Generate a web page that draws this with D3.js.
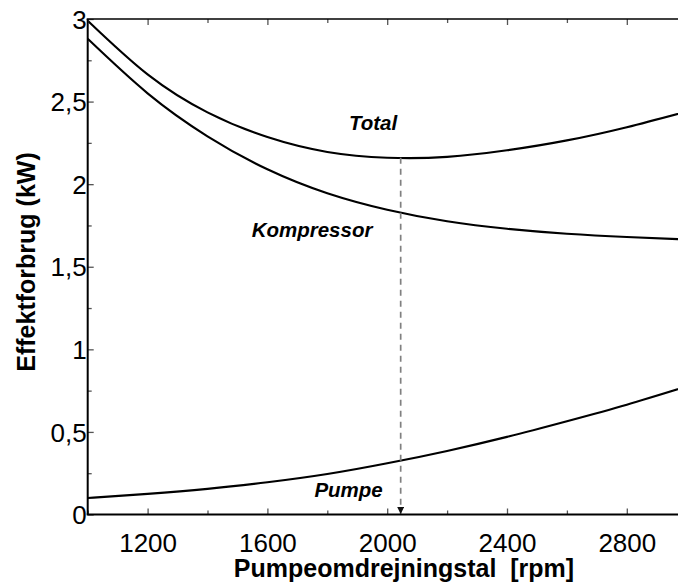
<!DOCTYPE html>
<html>
<head>
<meta charset="utf-8">
<script src="https://cdn.jsdelivr.net/npm/d3@7"></script>
<style>
  html, body { margin: 0; padding: 0; background: #fff; }
  svg { display: block; font-family: "Liberation Sans", Arial, sans-serif; }
</style>
</head>
<body>
<svg id="chart" width="678" height="587"></svg>
<script>
// ---- data ----
const rpm        = [1000, 1200, 1400, 1600, 1800, 2000, 2200, 2400, 2600, 2800, 3000];
const kompressor = [2.88, 2.55, 2.29, 2.09, 1.945, 1.845, 1.775, 1.73, 1.70, 1.68, 1.665];
const pumpe      = [0.10, 0.125, 0.155, 0.195, 0.245, 0.31, 0.385, 0.47, 0.565, 0.665, 0.775];
const total      = [2.99, 2.665, 2.435, 2.285, 2.195, 2.16, 2.165, 2.205, 2.265, 2.345, 2.44];
const xTickValues = [1200, 1600, 2000, 2400, 2800];
const xMinorTicks = [1000, 1400, 1800, 2200, 2600, 3000];
const yTickValues = [0, 0.5, 1, 1.5, 2, 2.5, 3];
const yTickLabels = ["0", "0,5", "1", "1,5", "2", "2,5", "3"];
const yMinorTicks = [0.25, 0.75, 1.25, 1.75, 2.25, 2.75];
const optimumRpm = 2045;
const optimumKW  = 2.16;
const seriesLabels = [
  {text: "Total",      rpm: 1953, kw: 2.33},
  {text: "Kompressor", rpm: 1749, kw: 1.68},
  {text: "Pumpe",      rpm: 1871, kw: 0.104}
];

// ---- layout ----
const svg = d3.select("#chart");
const pLeft = 87.7, pTop = 19, pBottom = 514.5, pRight = 686.7;
const x = d3.scaleLinear().domain([1000, 3000]).range([pLeft, pRight]);
const y = d3.scaleLinear().domain([0, 3]).range([pBottom, pTop]);

const defs = svg.append("defs");
defs.append("clipPath").attr("id", "plotclip")
  .append("rect").attr("x", pLeft).attr("y", pTop - 2).attr("width", pRight - pLeft).attr("height", pBottom - pTop + 4);
defs.append("marker").attr("id", "arrow")
  .attr("viewBox", "0 0 10 10").attr("refX", 10).attr("refY", 5)
  .attr("markerWidth", 9).attr("markerHeight", 7).attr("markerUnits", "userSpaceOnUse")
  .attr("orient", "auto")
  .append("path").attr("d", "M0,0 L10,5 L0,10 Z").attr("fill", "#111");

const line = d3.line().x(d => x(d[0])).y(d => y(d[1])).curve(d3.curveNatural);
const plot = svg.append("g").attr("clip-path", "url(#plotclip)");

[total, kompressor, pumpe].forEach(vals => {
  plot.append("path")
    .datum(rpm.map((r, i) => [r, vals[i]]))
    .attr("d", line)
    .attr("fill", "none")
    .attr("stroke", "#000")
    .attr("stroke-width", 2.1);
});

// dashed optimum marker
svg.append("line")
  .attr("x1", x(optimumRpm)).attr("x2", x(optimumRpm))
  .attr("y1", y(optimumKW)).attr("y2", y(0) - 0.5)
  .attr("stroke", "#808080").attr("stroke-width", 1.7)
  .attr("stroke-dasharray", "6,5")
  .attr("marker-end", "url(#arrow)");

// ---- axes ----
const axisColor = "#000";
function styleTicks(g) {
  g.select(".domain").remove();
  g.selectAll(".tick line").attr("stroke", "#555").attr("stroke-width", 1.3);
}
// bottom axis
const gx = svg.append("g").attr("transform", `translate(0,${pBottom})`)
  .call(d3.axisBottom(x).tickValues(xTickValues).tickSizeInner(-6).tickSizeOuter(0).tickPadding(19).tickFormat(d3.format("d")));
styleTicks(gx);
gx.selectAll(".tick text").attr("font-size", 26).attr("fill", "#000")
  .attr("font-family", "'Liberation Sans', Arial, sans-serif");
const gxm = svg.append("g").attr("transform", `translate(0,${pBottom})`)
  .call(d3.axisBottom(x).tickValues(xMinorTicks).tickSizeInner(-4).tickSizeOuter(0).tickFormat(""));
styleTicks(gxm);

// top axis ticks
const gt = svg.append("g").attr("transform", `translate(0,${pTop})`)
  .call(d3.axisTop(x).tickValues(xTickValues).tickSizeInner(-6).tickSizeOuter(0).tickFormat(""));
styleTicks(gt);
const gtm = svg.append("g").attr("transform", `translate(0,${pTop})`)
  .call(d3.axisTop(x).tickValues(xMinorTicks).tickSizeInner(-4).tickSizeOuter(0).tickFormat(""));
styleTicks(gtm);

// left axis
const gy = svg.append("g").attr("transform", `translate(${pLeft},0)`)
  .call(d3.axisLeft(y).tickValues(yTickValues).tickSizeInner(-6).tickSizeOuter(0).tickPadding(3)
    .tickFormat((d, i) => yTickLabels[i]));
styleTicks(gy);
gy.selectAll(".tick text").attr("font-size", 26).attr("fill", "#000")
  .attr("x", -1).attr("dy", "0.35em")
  .attr("font-family", "'Liberation Sans', Arial, sans-serif");
const gym = svg.append("g").attr("transform", `translate(${pLeft},0)`)
  .call(d3.axisLeft(y).tickValues(yMinorTicks).tickSizeInner(-4).tickSizeOuter(0).tickFormat(""));
styleTicks(gym);

// frame lines (left, bottom, top)
svg.append("line").attr("x1", pLeft).attr("x2", pLeft).attr("y1", pTop).attr("y2", pBottom)
  .attr("stroke", axisColor).attr("stroke-width", 2);
svg.append("line").attr("x1", pLeft - 1).attr("x2", 678).attr("y1", pBottom).attr("y2", pBottom)
  .attr("stroke", axisColor).attr("stroke-width", 2);
svg.append("line").attr("x1", pLeft - 1).attr("x2", 678).attr("y1", pTop).attr("y2", pTop)
  .attr("stroke", axisColor).attr("stroke-width", 1.6);

// series labels
svg.append("g").selectAll("text").data(seriesLabels).join("text")
  .attr("x", d => x(d.rpm)).attr("y", d => y(d.kw))
  .attr("text-anchor", "middle")
  .attr("font-size", 20.5).attr("font-weight", "bold").attr("font-style", "italic")
  .text(d => d.text);

// axis titles
svg.append("text")
  .attr("x", 404).attr("y", 577)
  .attr("text-anchor", "middle")
  .attr("font-size", 25).attr("font-weight", "bold")
  .attr("xml:space", "preserve")
  .style("white-space", "pre")
  .text("Pumpeomdrejningstal  [rpm]");
svg.append("text")
  .attr("transform", "translate(35,262) rotate(-90)")
  .attr("text-anchor", "middle")
  .attr("font-size", 25).attr("font-weight", "bold")
  .text("Effektforbrug (kW)");
</script>
</body>
</html>
